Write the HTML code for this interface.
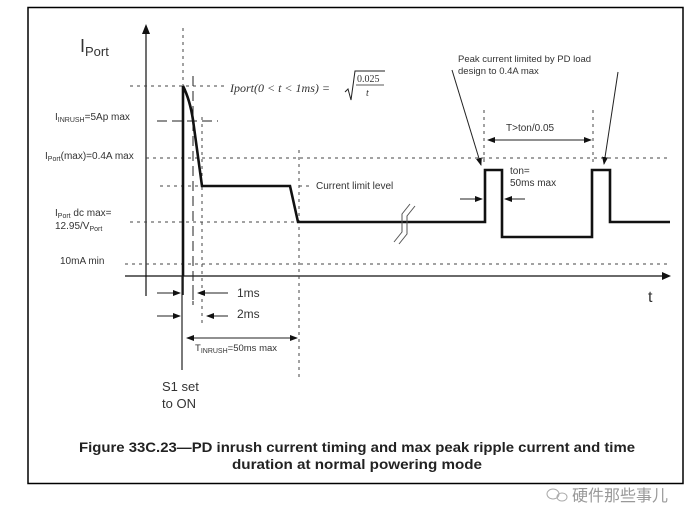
<!DOCTYPE html>
<html><head><meta charset="utf-8"><style>
html,body{margin:0;padding:0;background:#fff;width:700px;height:525px;overflow:hidden}
svg{display:block}
text{font-family:"Liberation Sans",sans-serif;fill:#333}
</style></head><body>
<svg width="700" height="525" viewBox="0 0 700 525" xmlns="http://www.w3.org/2000/svg">
<defs>
<marker id="ah" markerWidth="8" markerHeight="6" refX="7" refY="3" orient="auto" markerUnits="userSpaceOnUse"><path d="M0,0 L8,3 L0,6 Z" fill="#111"/></marker>
<marker id="ahb" markerWidth="8" markerHeight="6" refX="1" refY="3" orient="auto" markerUnits="userSpaceOnUse"><path d="M8,0 L0,3 L8,6 Z" fill="#111"/></marker>
</defs>
<rect x="28" y="7.5" width="655" height="476" fill="none" stroke="#000" stroke-width="1.5"/>
<line x1="146" y1="30" x2="146" y2="296" stroke="#111" stroke-width="1.2"/>
<path d="M142,34 L146,24 L150,34 Z" fill="#111"/>
<line x1="125" y1="276" x2="664" y2="276" stroke="#111" stroke-width="1.2"/>
<path d="M662,272 L671,276 L662,280 Z" fill="#111"/>
<g stroke="#444" stroke-width="1" stroke-dasharray="3,4" fill="none">
<line x1="183" y1="28" x2="183" y2="86"/>
<line x1="146" y1="158" x2="670" y2="158"/>
<line x1="160" y1="186" x2="200" y2="186"/>
<line x1="130" y1="222" x2="298" y2="222"/>
<line x1="125" y1="264" x2="670" y2="264"/>
<line x1="202" y1="117" x2="202" y2="325"/>
<line x1="299" y1="150" x2="299" y2="380"/>
<line x1="484" y1="110" x2="484" y2="162"/>
<line x1="593" y1="110" x2="593" y2="162"/>
<line x1="130" y1="86" x2="225" y2="86"/>
<line x1="299" y1="186" x2="312" y2="186"/>
</g>
<g stroke="#222" stroke-width="1" stroke-dasharray="10,5" fill="none">
<line x1="157" y1="121" x2="218" y2="121"/>
<line x1="193" y1="76" x2="193" y2="305"/>
</g>
<path d="M183,276 L183,86 Q190,100 193,120 L202,186 L290,186 L298,222 L485,222 L485,170 L502,170 L502,237 L592,237 L592,170 L610,170 L610,222 L670,222" fill="none" stroke="#111" stroke-width="2.6" stroke-linejoin="miter"/>
<line x1="183" y1="276" x2="183" y2="295" stroke="#111" stroke-width="1.5"/>
<g stroke="#555" stroke-width="1" fill="none">
<path d="M394,242 L402,232 L402,214 L410,204"/>
<path d="M399,244 L407,234 L407,216 L415,206"/>
</g>
<line x1="182" y1="276" x2="182" y2="370" stroke="#222" stroke-width="1.2"/>
<g stroke="#222" stroke-width="1" fill="none">
<line x1="157" y1="293" x2="180" y2="293" marker-end="url(#ah)"/>
<line x1="228" y1="293" x2="198" y2="293" marker-end="url(#ah)"/>
<line x1="157" y1="316" x2="180" y2="316" marker-end="url(#ah)"/>
<line x1="228" y1="316" x2="207" y2="316" marker-end="url(#ah)"/>
<line x1="187" y1="338" x2="297" y2="338" marker-start="url(#ahb)" marker-end="url(#ah)"/>
<line x1="488" y1="140" x2="591" y2="140" marker-start="url(#ahb)" marker-end="url(#ah)"/>
<line x1="460" y1="199" x2="482" y2="199" marker-end="url(#ah)"/>
<line x1="525" y1="199" x2="505" y2="199" marker-end="url(#ah)"/>
<line x1="452" y1="70" x2="481" y2="165" marker-end="url(#ah)"/>
<line x1="618" y1="72" x2="604" y2="164" marker-end="url(#ah)"/>
</g>
<line x1="193" y1="285" x2="193" y2="300" stroke="#222" stroke-width="1"/>
<text x="80" y="52" font-size="18">I<tspan font-size="13" dy="4">Port</tspan></text>
<text x="55" y="120" font-size="10">I<tspan font-size="7" dy="2">INRUSH</tspan><tspan dy="-2">=5Ap max</tspan></text>
<text x="45" y="159" font-size="10">I<tspan font-size="7" dy="2">Port</tspan><tspan dy="-2">(max)=0.4A max</tspan></text>
<text x="55" y="216" font-size="10">I<tspan font-size="7" dy="2">Port</tspan><tspan dy="-2"> dc max=</tspan></text>
<text x="55" y="229" font-size="10">12.95/V<tspan font-size="7" dy="2">Port</tspan></text>
<text x="60" y="264" font-size="10">10mA min</text>
<text x="316" y="189" font-size="10">Current limit level</text>
<text x="230" y="92" font-size="12" font-style="italic" style="font-family:'Liberation Serif',serif">Iport(0 &lt; t &lt; 1ms) =</text>
<path d="M345,92 L348,89 L351,100 L355,71 L385,71" fill="none" stroke="#222" stroke-width="1"/>
<line x1="356" y1="85" x2="384" y2="85" stroke="#222" stroke-width="0.8"/>
<text x="357" y="82" font-size="10" style="font-family:'Liberation Serif',serif">0.025</text>
<text x="366" y="96" font-size="10" font-style="italic" style="font-family:'Liberation Serif',serif">t</text>
<text x="458" y="62" font-size="9.5">Peak current limited by PD load</text>
<text x="458" y="74" font-size="9.5">design to 0.4A max</text>
<text x="506" y="131" font-size="10">T&gt;ton/0.05</text>
<text x="510" y="174" font-size="10">ton=</text>
<text x="510" y="186" font-size="10">50ms max</text>
<text x="237" y="297" font-size="12">1ms</text>
<text x="237" y="318" font-size="12">2ms</text>
<text x="195" y="351" font-size="9.5">T<tspan font-size="7" dy="2">INRUSH</tspan><tspan dy="-2">=50ms max</tspan></text>
<text x="162" y="391" font-size="13">S1 set</text>
<text x="162" y="408" font-size="13">to ON</text>
<text x="648" y="302" font-size="16">t</text>
<text x="357" y="452" font-size="14" font-weight="bold" text-anchor="middle" textLength="556" lengthAdjust="spacingAndGlyphs" style="fill:#222">Figure 33C.23—PD inrush current timing and max peak ripple current and time</text>
<text x="357" y="469" font-size="14" font-weight="bold" text-anchor="middle" textLength="250" lengthAdjust="spacingAndGlyphs" style="fill:#222">duration at normal powering mode</text>
<g stroke="#aaa" fill="none" stroke-width="1">
<ellipse cx="553" cy="494" rx="6" ry="5"/>
<ellipse cx="562" cy="497" rx="5" ry="4"/>
</g>
<text x="572" y="501" font-size="16" style="font-family:'Liberation Sans','Noto Sans CJK SC',sans-serif;fill:#999">硬件那些事儿</text>
</svg>
</body></html>
